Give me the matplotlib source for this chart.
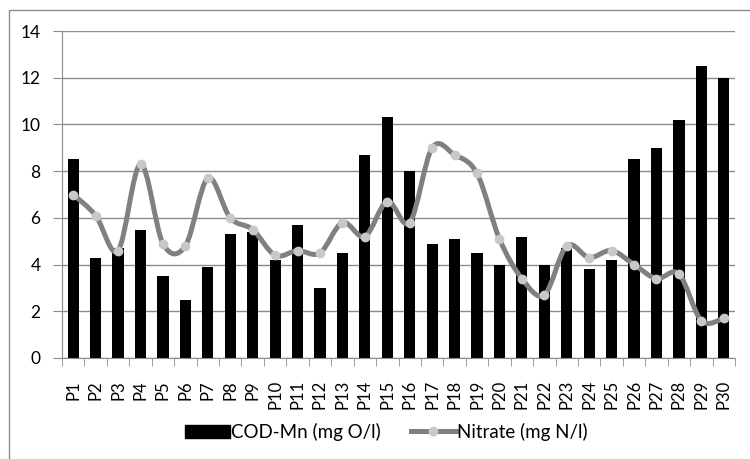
import numpy as np
import matplotlib
matplotlib.use("Agg")
import matplotlib.pyplot as plt
from matplotlib.path import Path
from matplotlib.patches import PathPatch, Rectangle
from matplotlib.lines import Line2D

plt.rcParams['font.family'] = ['Lato', 'DejaVu Sans']

sites = ["P%d" % i for i in range(1, 31)]
cod_mn = [8.5, 4.3, 4.7, 5.5, 3.5, 2.5, 3.9, 5.3, 5.4, 4.2,
          5.7, 3.0, 4.5, 8.7, 10.3, 8.0, 4.9, 5.1, 4.5, 4.0,
          5.2, 4.0, 4.7, 3.8, 4.2, 8.5, 9.0, 10.2, 12.5, 12.0]
nitrate = [7.0, 6.1, 4.6, 8.3, 4.9, 4.8, 7.7, 6.0, 5.5, 4.4,
           4.6, 4.5, 5.8, 5.2, 6.7, 5.8, 9.0, 8.7, 7.9, 5.1,
           3.4, 2.7, 4.8, 4.3, 4.6, 4.0, 3.4, 3.6, 1.6, 1.7]

fig = plt.figure(figsize=(7.5, 4.59), dpi=100)
ax = fig.add_axes([62/750, 1-358/459, 673/750, 327/459])

x = np.arange(len(sites))
ax.bar(x, cod_mn, width=0.5, color="black", zorder=2, label="COD-Mn (mg O/l)")

# smooth line like Excel: cubic bezier segments through the points
pts = np.column_stack([x, nitrate]).astype(float)
verts = [tuple(pts[0])]
codes = [Path.MOVETO]
t = 1/6
for i in range(len(pts)-1):
    p0 = pts[i-1] if i > 0 else pts[i]
    p1, p2 = pts[i], pts[i+1]
    p3 = pts[i+2] if i+2 < len(pts) else pts[i+1]
    c1 = p1 + (p2 - p0) * t
    c2 = p2 - (p3 - p1) * t
    verts += [tuple(c1), tuple(c2), tuple(p2)]
    codes += [Path.CURVE4] * 3
ax.add_patch(PathPatch(Path(verts, codes), fill=False, edgecolor="#808080",
                       lw=3.6, zorder=3, capstyle="round", joinstyle="round"))
ax.plot(x, nitrate, ls="none", marker="o", ms=6, mfc="#c8c8c8", mec="#c8c8c8", zorder=4)

ax.set_xlim(-0.5, len(sites)-0.5)
ax.set_ylim(0, 14)
ax.set_yticks(range(0, 15, 2))
ax.yaxis.grid(True, color="#8c8c8c", lw=1)
ax.set_axisbelow(True)
ax.set_xticks(x)
ax.set_xticklabels(sites, rotation=90, fontsize=12)
ax.set_xticks(np.arange(-0.5, len(sites)), minor=True)
ax.tick_params(axis="x", which="major", length=0, pad=16)
ax.tick_params(axis="x", which="minor", length=6, color="#8c8c8c", direction="out")
ax.tick_params(axis="y", length=6.5, color="#8c8c8c", labelsize=12.5, pad=9)
for s in ["top", "right"]:
    ax.spines[s].set_visible(False)
for s in ["left", "bottom"]:
    ax.spines[s].set_color("#8c8c8c")

handles = [Rectangle((0, 0), 1, 1, color="black"),
           Line2D([], [], color="#808080", lw=3.6, marker="o", ms=6,
                  mfc="#c8c8c8", mec="#c8c8c8")]
fig.legend(handles, ["COD-Mn (mg O/l)", "Nitrate (mg N/l)"], loc="center",
           bbox_to_anchor=(386/750, 1-432/459), ncol=2, frameon=False,
           fontsize=13.5, handlelength=2.4, handletextpad=0.05, columnspacing=1.6)

fig.patches.append(Rectangle((9/750, -0.1), 1.0, 1-10/459+0.1, transform=fig.transFigure,
                             fill=False, edgecolor="#8c8c8c", lw=1))

fig.savefig("out.png", dpi=100)
